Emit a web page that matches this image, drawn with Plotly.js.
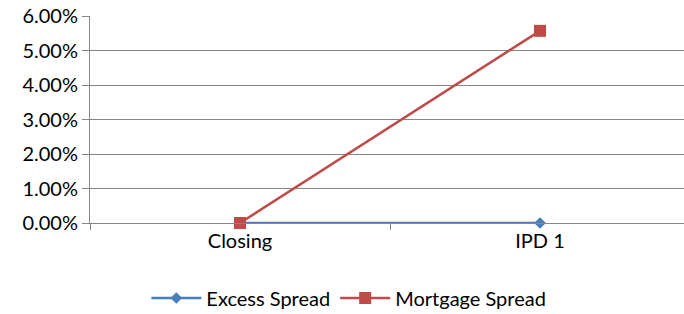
<!DOCTYPE html>
<html>
<head>
<meta charset="utf-8">
<script src="https://cdn.plot.ly/plotly-3.0.1.min.js"></script>
<style>html,body{margin:0;padding:0;background:#fff;}#chart{width:684px;height:314px;}</style>
</head>
<body>
<div id="chart"></div>
<script>
const categories = ["Closing", "IPD 1"];
const excessSpread = [0, 0];
const mortgageSpread = [0, 0.0557];

const FONT = "Lato, 'Liberation Sans', sans-serif";

const traces = [
  {
    x: categories, y: excessSpread, name: "Excess Spread", type: "scatter", mode: "lines+markers",
    cliponaxis: false,
    line: {color: "#4A7EBB", width: 2.5},
    marker: {symbol: "diamond", size: 9, color: "#4A7EBB"}
  },
  {
    x: categories, y: mortgageSpread, name: "Mortgage Spread", type: "scatter", mode: "lines+markers",
    cliponaxis: false,
    line: {color: "#BE4B48", width: 2.5},
    marker: {symbol: "square", size: 12, color: "#BE4B48"}
  }
];

const layout = {
  width: 684, height: 314,
  margin: {l: 90, r: 0, t: 16, b: 91},
  paper_bgcolor: "#fff", plot_bgcolor: "#fff",
  font: {family: FONT, size: 20, color: "#000"},
  showlegend: true,
  legend: {
    orientation: "h", xref: "container", yref: "container",
    x: 0.51, xanchor: "center", y: 0.051, yanchor: "middle",
    font: {family: FONT, size: 20, color: "#000"},
    itemwidth: 50, traceorder: "normal"
  },
  xaxis: {
    type: "category", range: [-0.5, 1.48],
    showline: true, linecolor: "#868686", linewidth: 1,
    ticks: "outside", tickson: "boundaries", ticklen: 6, tickcolor: "#868686",
    showgrid: false, zeroline: false,
    tickfont: {family: FONT, size: 20, color: "#000"}
  },
  yaxis: {
    range: [0, 0.06], dtick: 0.01, tickformat: ".2%",
    showline: true, linecolor: "#868686", linewidth: 1,
    ticks: "outside", ticklen: 7, tickcolor: "#868686",
    showgrid: true, gridcolor: "#868686", gridwidth: 1,
    zeroline: false,
    tickfont: {family: FONT, size: 20, color: "#000"}
  }
};

Plotly.newPlot("chart", traces, layout, {displayModeBar: false, staticPlot: true});
</script>
</body>
</html>
